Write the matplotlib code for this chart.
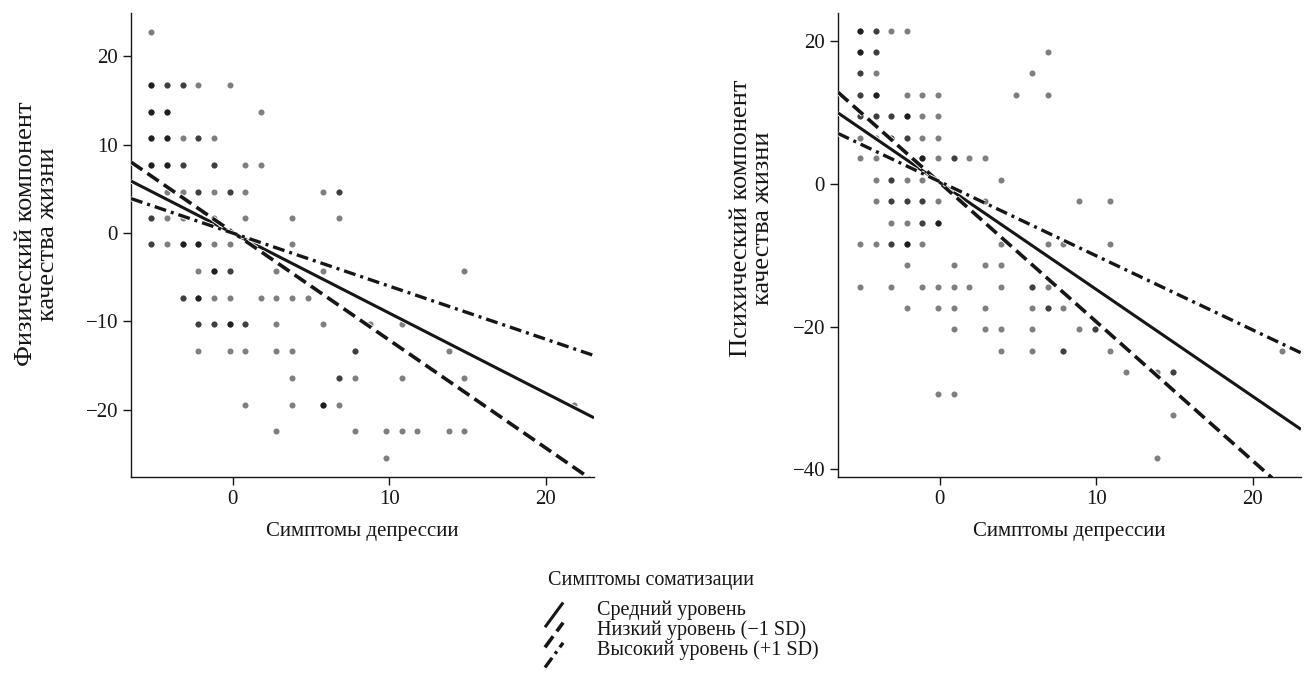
import matplotlib
matplotlib.use("Agg")
import matplotlib.pyplot as plt
import matplotlib.patheffects as pe
from matplotlib.legend_handler import HandlerBase
from matplotlib.lines import Line2D

plt.rcParams['font.family'] = ['Liberation Serif', 'DejaVu Serif']

# --- data ------------------------------------------------------------------
# left panel: physical component; each row = one y level, dots at x with count n
phys_y = [22.8, 16.8, 13.7, 10.8, 7.7, 4.6, 1.7, -1.2, -4.3, -7.4,
          -10.3, -13.4, -16.4, -19.4, -22.4, -25.4]
phys_x = [
    [-5.2],
    [-5.2, -4.2, -3.2, -2.2, -0.2],
    [-5.2, -4.2, 1.8],
    [-5.2, -4.2, -3.2, -2.2, -1.2],
    [-5.2, -4.2, -3.2, -1.2, 0.8, 1.8],
    [-4.2, -3.2, -2.2, -1.2, -0.2, 0.8, 5.8, 6.8],
    [-5.2, -4.2, -3.2, -1.2, 0.8, 3.8, 6.8],
    [-5.2, -4.2, -3.2, -2.2, -1.2, -0.2, 3.8],
    [-2.2, -1.2, -0.2, 2.8, 5.8, 14.8],
    [-3.2, -2.2, -1.2, -0.2, 1.8, 2.8, 3.8, 4.8],
    [-2.2, -1.2, -0.2, 0.8, 2.8, 5.8, 8.8, 10.8],
    [-2.2, -0.2, 0.8, 2.8, 3.8, 7.8, 13.8],
    [3.8, 6.8, 7.8, 10.8, 14.8],
    [0.8, 3.8, 5.8, 6.8, 21.8],
    [2.8, 7.8, 9.8, 10.8, 11.8, 13.8, 14.8],
    [9.8],
]
phys_n = [
    [1],
    [3, 2, 2, 1, 1],
    [3, 3, 1],
    [3, 3, 1, 2, 1],
    [3, 3, 2, 2, 1, 1],
    [1, 1, 2, 1, 2, 1, 1, 2],
    [2, 1, 1, 1, 1, 1, 1],
    [2, 1, 3, 3, 1, 1, 1],
    [1, 3, 2, 1, 1, 1],
    [2, 3, 1, 1, 1, 1, 1, 1],
    [2, 2, 3, 2, 1, 1, 1, 1],
    [1, 1, 1, 1, 1, 2, 1],
    [1, 2, 1, 1, 1],
    [1, 1, 3, 1, 1],
    [1, 1, 1, 1, 1, 1, 1],
    [1],
]

# right panel: mental component
ment_y = [21.5, 18.5, 15.6, 12.5, 9.5, 6.5, 3.6, 0.6, -2.4, -5.4, -8.4,
          -11.4, -14.4, -17.4, -20.4, -23.4, -26.4, -29.4, -32.4, -38.4]
ment_x = [
    [-5.1, -4.1, -3.1, -2.1],
    [-5.1, -4.1, 6.9],
    [-5.1, -4.1, 5.9],
    [-5.1, -4.1, -2.1, -1.1, -0.1, 4.9, 6.9],
    [-5.1, -4.1, -3.1, -2.1, -1.1, -0.1],
    [-5.1, -4.1, -3.1, -2.1, -1.1, -0.1],
    [-5.1, -4.1, -1.1, -0.1, 0.9, 1.9, 2.9],
    [-4.1, -3.1, -2.1, -1.1, 3.9],
    [-4.1, -3.1, -2.1, -1.1, -0.1, 2.9, 8.9, 10.9],
    [-3.1, -2.1, -1.1, -0.1],
    [-5.1, -4.1, -3.1, -2.1, -1.1, 3.9, 6.9, 7.9, 10.9],
    [-2.1, 0.9, 2.9, 3.9],
    [-5.1, -3.1, -1.1, -0.1, 0.9, 1.9, 3.9, 5.9, 6.9],
    [-2.1, -0.1, 0.9, 2.9, 5.9, 6.9, 7.9],
    [0.9, 2.9, 3.9, 5.9, 8.9, 9.9],
    [3.9, 5.9, 7.9, 10.9, 21.9],
    [11.9, 13.9, 14.9],
    [-0.1, 0.9],
    [14.9],
    [13.9],
]
ment_n = [
    [3, 2, 1, 1],
    [3, 2, 1],
    [2, 1, 1],
    [2, 3, 1, 1, 1, 1, 1],
    [2, 2, 2, 3, 1, 1],
    [1, 1, 2, 2, 1, 1],
    [1, 1, 3, 1, 2, 1, 1],
    [1, 2, 1, 1, 1],
    [1, 2, 2, 2, 1, 1, 1, 1],
    [1, 1, 2, 3],
    [1, 1, 2, 3, 1, 1, 1, 1, 1],
    [1, 1, 1, 1],
    [1, 1, 1, 1, 1, 1, 1, 2, 1],
    [1, 1, 1, 1, 1, 2, 1],
    [1, 1, 1, 1, 1, 2],
    [1, 1, 2, 1, 1],
    [1, 1, 2],
    [1, 1],
    [1],
    [1],
]

# simple slopes: mean, low (-1 SD), high (+1 SD) somatization
level_labels = ["Средний уровень", "Низкий уровень (\u22121 SD)",
                "Высокий уровень (+1 SD)"]
phys_icpt = [0.0, 0.1, 0.0]
phys_slope = [-0.905, -1.22, -0.60]
ment_icpt = [0.23, 0.2, 0.34]
ment_slope = [-1.50, -1.95, -1.04]

x_range = (-6.5, 23.1)
phys_ylim = (-27.6, 24.9)
ment_ylim = (-41.1, 24.0)
phys_yticks = [-20, -10, 0, 10, 20]
ment_yticks = [-40, -20, 0, 20]
xticks = [0, 10, 20]

x_title = "Симптомы депрессии"
phys_title = "Физический компонент\nкачества жизни"
ment_title = "Психический компонент\nкачества жизни"
legend_title = "Симптомы соматизации"

# --- styling ----------------------------------------------------------------
INK = "#161616"
line_styles = [
    dict(lw=2.2, ls="-"),
    dict(lw=2.6, ls=(0, (3.8, 1.7))),
    dict(lw=2.4, ls=(0, (3.6, 1.5, 0.9, 1.5))),
]


class DiagonalHandler(HandlerBase):
    """Legend key drawn as a short rising diagonal stroke."""

    def create_artists(self, legend, orig_handle, xdescent, ydescent,
                       width, height, fontsize, trans):
        x0 = -xdescent
        y0 = -ydescent
        line = Line2D([x0, x0 + width], [y0 - 0.9 * height, y0 + 0.85 * height])
        line.update_from(orig_handle)
        line.set_path_effects([])
        line.set_clip_on(False)
        line.set_clip_box(None)
        line.set_transform(trans)
        return [line]


def panel(ax, ys, xs, ns, icpt, slope, ylim, yticks, ylabel, ylabel_xy):
    px, py = [], []
    for y, row_x, row_n in zip(ys, xs, ns):
        for x, n in zip(row_x, row_n):
            px += [x] * n
            py += [y] * n
    ax.scatter(px, py, s=19, c="black", alpha=0.5, linewidths=0, zorder=2)

    handles = []
    for a, b, st in zip(icpt, slope, line_styles):
        xx = list(x_range)
        yy = [a + b * v for v in xx]
        ln, = ax.plot(xx, yy, color=INK, lw=st["lw"], ls=st["ls"],
                      dash_capstyle="butt", solid_capstyle="butt", zorder=3,
                      path_effects=[pe.Stroke(linewidth=st["lw"] + 1.3,
                                              foreground="white"),
                                    pe.Normal()])
        handles.append(ln)

    ax.set_xlim(*x_range)
    ax.set_ylim(*ylim)
    ax.set_xticks(xticks)
    ax.set_yticks(yticks)
    for s in ("top", "right"):
        ax.spines[s].set_visible(False)
    for s in ("left", "bottom"):
        ax.spines[s].set_linewidth(1.0)
        ax.spines[s].set_color(INK)
    ax.tick_params(direction="out", length=5.8, width=1.0, color=INK,
                   labelsize=15, pad=3.5, labelcolor=INK)
    ax.set_xlabel(x_title, fontsize=15, color=INK)
    ax.xaxis.set_label_coords(0.5, -0.098)
    ax.set_ylabel(ylabel, fontsize=19, color=INK, linespacing=1.0)
    ax.yaxis.set_label_coords(*ylabel_xy)
    return handles


fig = plt.figure(figsize=(13.09, 6.76), dpi=100)
ax1 = fig.add_axes([0.1001, 0.2944, 0.3537, 0.6864])
ax2 = fig.add_axes([0.6402, 0.2944, 0.3537, 0.6864])

h = panel(ax1, phys_y, phys_x, phys_n, phys_icpt, phys_slope,
          phys_ylim, phys_yticks, phys_title, (-0.156, 0.524))
panel(ax2, ment_y, ment_x, ment_n, ment_icpt, ment_slope,
      ment_ylim, ment_yticks, ment_title, (-0.138, 0.558))

fig.text(548 / 1309, 1 - 580 / 676, legend_title, fontsize=14.5,
         ha="left", va="center", color=INK)
fig.legend(h, level_labels, loc="upper left",
           bbox_to_anchor=(545 / 1309, 1 - 600 / 676),
           handler_map={Line2D: DiagonalHandler()},
           frameon=False, fontsize=14.5, borderpad=0, borderaxespad=0,
           handlelength=0.9, handletextpad=1.7, labelspacing=0.02,
           labelcolor=INK)

fig.savefig("out.png", dpi=100)
